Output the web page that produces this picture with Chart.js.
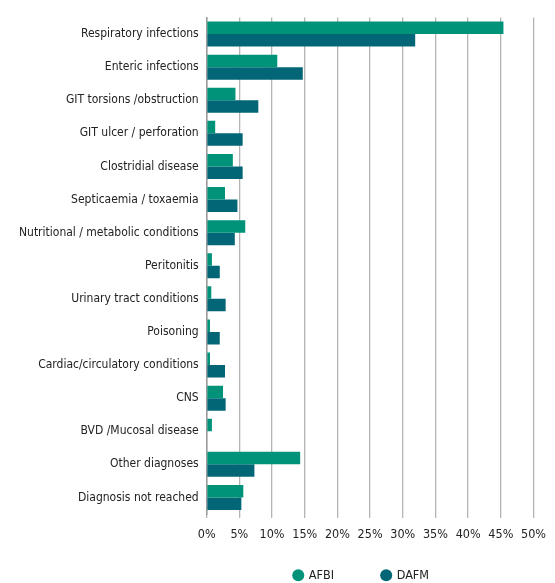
<!DOCTYPE html>
<html>
<head>
<meta charset="utf-8">
<script src="https://cdn.jsdelivr.net/npm/chart.js@4/dist/chart.umd.min.js"></script>
<style>
  html, body { margin: 0; padding: 0; background: #fff; }
  #wrap { width: 555px; height: 583px; position: relative; }
</style>
</head>
<body>
<div id="wrap"><canvas id="diagchart"></canvas></div>
<script>
const categories = [
  'Respiratory infections',
  'Enteric infections',
  'GIT torsions /obstruction',
  'GIT ulcer / perforation',
  'Clostridial disease',
  'Septicaemia / toxaemia',
  'Nutritional / metabolic conditions',
  'Peritonitis',
  'Urinary tract conditions',
  'Poisoning',
  'Cardiac/circulatory conditions',
  'CNS',
  'BVD /Mucosal disease',
  'Other diagnoses',
  'Diagnosis not reached'
];
const afbi = [45.4, 10.8, 4.4, 1.3, 4.0, 2.8, 5.9, 0.8, 0.7, 0.5, 0.5, 2.5, 0.8, 14.3, 5.6];
const dafm = [31.9, 14.7, 7.9, 5.5, 5.5, 4.7, 4.3, 2.0, 2.9, 2.0, 2.8, 2.9, 0, 7.3, 5.3];
const xTicks = [0, 5, 10, 15, 20, 25, 30, 35, 40, 45, 50];

const font = "'Liberation Sans Narrow', 'DejaVu Sans Condensed', 'Liberation Sans', sans-serif";

// legend: wide gap between items but not a tall box
const legendPlace = {
  id: 'legendPlace',
  beforeInit(chart) {
    const lg = chart.legend;
    const fit = lg.fit;
    lg.fit = function () { fit.call(this); this.height = 40; };
  },
  afterLayout(chart) {
    const lg = chart.legend;
    lg.top = 521;
    lg.bottom = 583;
    lg.left = 186;
    lg.right = 537;
  }
};

new Chart(document.getElementById('diagchart'), {
  type: 'bar',
  data: {
    labels: categories,
    datasets: [
      { label: 'AFBI', data: afbi, backgroundColor: '#00937a', borderWidth: 0 },
      { label: 'DAFM', data: dafm, backgroundColor: '#036677', borderWidth: 0 }
    ]
  },
  options: {
    indexAxis: 'y',
    responsive: true,
    maintainAspectRatio: false,
    animation: false,
    categoryPercentage: 0.755,
    barPercentage: 1.0,
    layout: { padding: { top: 17.5, right: 2, left: 0, bottom: 0 } },
    scales: {
      x: {
        min: 0,
        max: 50,
        afterBuildTicks: axis => { axis.ticks = xTicks.map(v => ({ value: v })); },
        afterFit: axis => { axis.height = 29; },
        ticks: {
          callback: v => v + '%',
          color: '#222',
          font: { family: font, size: 12.5 },
          padding: 9,
          maxRotation: 0
        },
        grid: { color: '#b4b4b4', lineWidth: 1.3, tickLength: 4 },
        border: { display: false }
      },
      y: {
        afterFit: axis => { axis.width = 206.7; },
        ticks: {
          color: '#222',
          font: { family: font, size: 12 },
          padding: 8,
          autoSkip: false
        },
        grid: { display: false, drawTicks: false },
        border: { display: true, color: '#9a9a9a', width: 1.5 }
      }
    },
    plugins: {
      legend: {
        position: 'bottom',
        fullSize: false,
        labels: {
          usePointStyle: true,
          pointStyle: 'circle',
          boxWidth: 8.5,
          boxHeight: 8.5,
          padding: 48,
          color: '#222',
          font: { family: font, size: 12.5 }
        }
      },
      tooltip: { enabled: false }
    }
  },
  plugins: [legendPlace]
});
</script>
</body>
</html>
